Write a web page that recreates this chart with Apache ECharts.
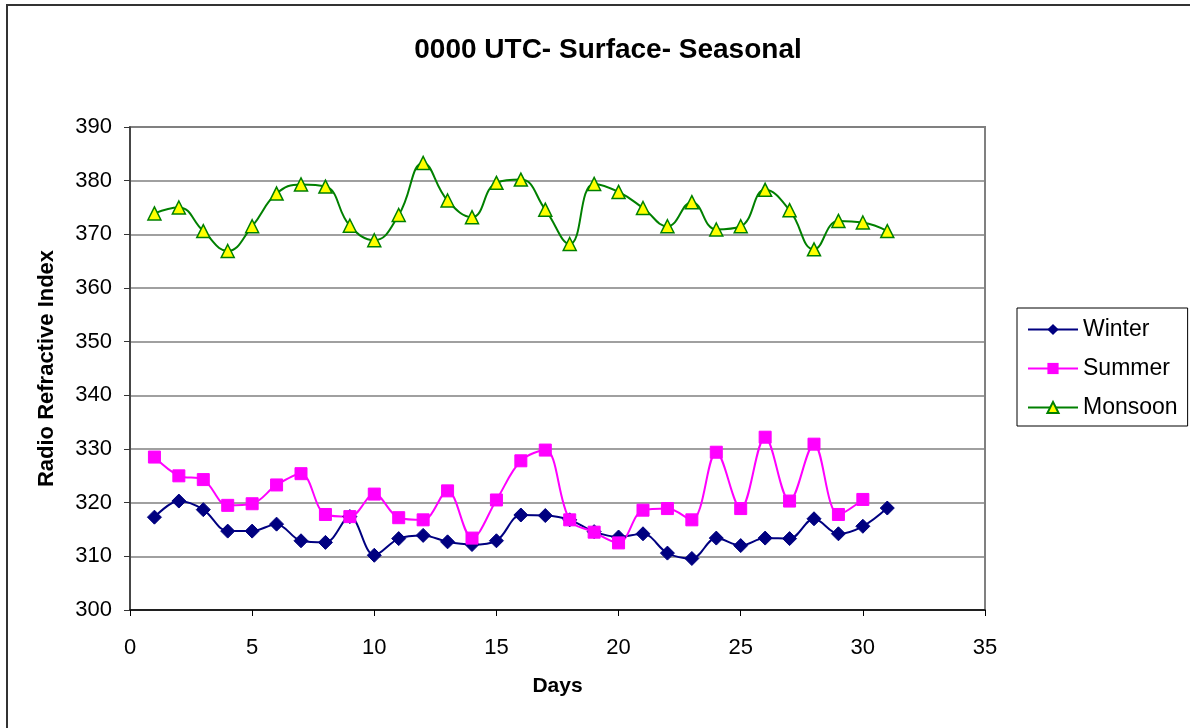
<!DOCTYPE html>
<html>
<head>
<meta charset="utf-8">
<script src="https://cdn.jsdelivr.net/npm/echarts@6/dist/echarts.min.js"></script>
<style>
html,body{margin:0;padding:0;background:#fff;}
#chart{width:1190px;height:728px;}
</style>
</head>
<body>
<div id="chart"></div>
<script>
const days = [1,2,3,4,5,6,7,8,9,10,11,12,13,14,15,16,17,18,19,20,21,22,23,24,25,26,27,28,29,30,31];
const winter = [317.3,320.3,318.7,314.7,314.7,316.0,312.9,312.6,317.4,310.2,313.3,313.9,312.7,312.2,312.9,317.7,317.6,316.8,314.6,313.6,314.2,310.6,309.6,313.4,312.0,313.4,313.3,317.0,314.2,315.6,319.0];
const summer = [328.5,325.0,324.3,319.5,319.8,323.3,325.4,317.8,317.4,321.6,317.2,316.8,322.2,313.4,320.5,327.8,329.8,316.8,314.5,312.5,318.6,318.9,316.8,329.4,318.9,332.2,320.3,330.9,317.8,320.6];
const monsoon = [373.9,375.0,370.6,366.9,371.5,377.6,379.3,378.9,371.6,368.9,373.6,383.3,376.3,373.2,379.6,380.2,374.6,368.2,379.4,377.9,374.9,371.5,376.0,370.9,371.5,378.3,374.5,367.2,372.5,372.2,370.6];
const xTicks = {min:0, max:35, interval:5};
const yTicks = {min:300, max:390, interval:10};

function pairs(vals){ return vals.map((v,i)=>[days[i], v]); }

const chart = echarts.init(document.getElementById('chart'));
const font = 'Liberation Sans, Arial, sans-serif';
chart.setOption({
  animation:false,
  backgroundColor:'#ffffff',
  title:{
    text:'0000 UTC- Surface- Seasonal',
    left:603, top:31, textAlign:'center',
    textStyle:{fontFamily:font, fontSize:28, fontWeight:'bold', color:'#000'}
  },
  graphic:[{
    type:'rect', shape:{x:7, y:5, width:1200, height:740},
    style:{fill:'none', stroke:'#333', lineWidth:2}, silent:true
  }],
  grid:{left:130, top:127, width:855, height:483, show:true, borderColor:'#808080', borderWidth:2, backgroundColor:'#fff'},
  legend:{
    orient:'vertical', left:1017, top:308,
    padding:[10,10,7,10], itemGap:16,
    borderColor:'#000', borderWidth:1, backgroundColor:'#fff',
    itemWidth:50, itemHeight:14,
    textStyle:{fontFamily:font, fontSize:23, color:'#000'},
    data:['Winter','Summer','Monsoon']
  },
  xAxis:{
    type:'value', min:xTicks.min, max:xTicks.max, interval:xTicks.interval,
    name:'Days', nameLocation:'middle', nameGap:66,
    nameTextStyle:{fontFamily:font, fontSize:21, fontWeight:'bold', color:'#000'},
    axisLine:{show:true, lineStyle:{color:'#000', width:1.5}},
    axisTick:{show:true, inside:false, length:6, lineStyle:{color:'#000'}},
    axisLabel:{fontFamily:font, fontSize:22, color:'#000', margin:27},
    splitLine:{show:false}
  },
  yAxis:{
    type:'value', min:yTicks.min, max:yTicks.max, interval:yTicks.interval,
    name:'Radio Refractive Index', nameLocation:'middle', nameGap:72, nameRotate:90,
    nameTextStyle:{fontFamily:font, fontSize:22, fontWeight:'bold', color:'#000'},
    axisLine:{show:true, lineStyle:{color:'#333', width:1.5}},
    axisTick:{show:true, inside:false, length:6, lineStyle:{color:'#333'}},
    axisLabel:{fontFamily:font, fontSize:22, color:'#000', margin:18},
    splitLine:{show:true, lineStyle:{color:'#808080', width:1.5}}
  },
  series:[
    {name:'Winter', type:'line', data:pairs(winter), smooth:0.35,
     symbol:'diamond', symbolSize:14,
     lineStyle:{color:'#000080', width:2},
     itemStyle:{color:'#000080', borderColor:'#000080'}},
    {name:'Summer', type:'line', data:pairs(summer), smooth:0.35,
     symbol:'rect', symbolSize:12,
     lineStyle:{color:'#FF00FF', width:2},
     itemStyle:{color:'#FF00FF', borderColor:'#FF00FF'}},
    {name:'Monsoon', type:'line', data:pairs(monsoon), smooth:0.45,
     symbol:'triangle', symbolSize:13,
     lineStyle:{color:'#008000', width:2},
     itemStyle:{color:'#FFFF00', borderColor:'#008000', borderWidth:1.5}}
  ]
});
</script>
</body>
</html>
